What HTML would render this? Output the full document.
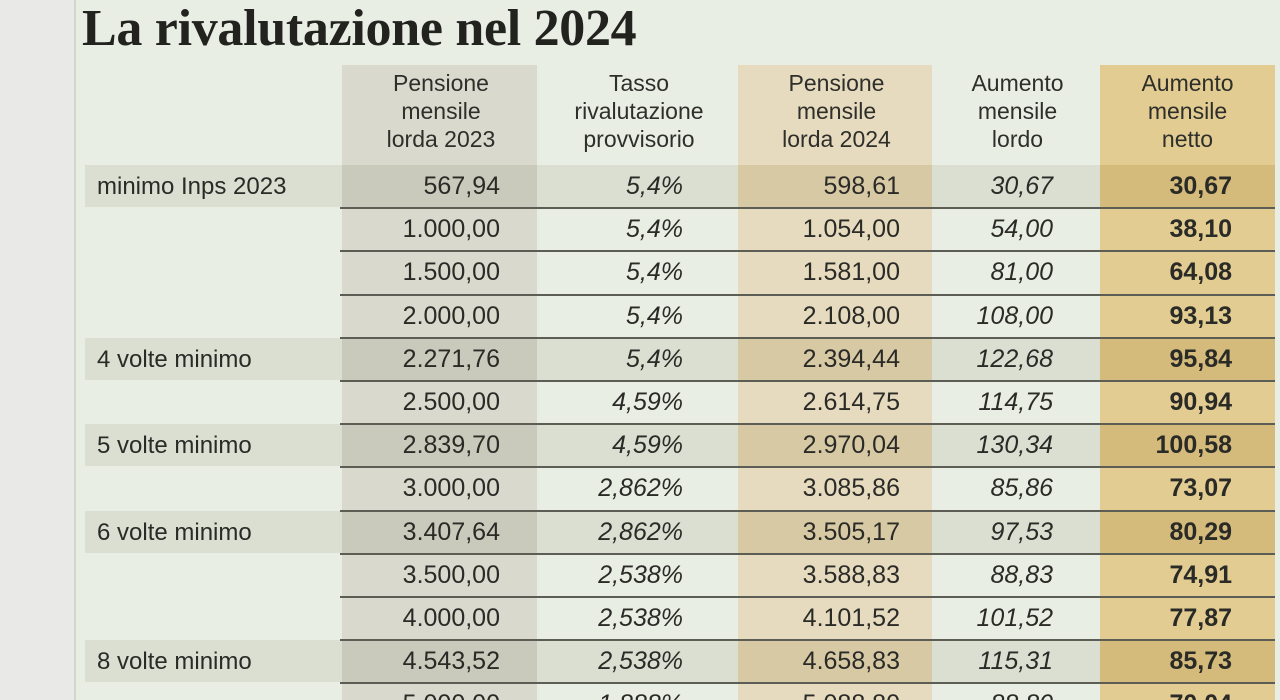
<!DOCTYPE html>
<html><head><meta charset="utf-8"><style>
html,body{margin:0;padding:0;width:1280px;height:700px;overflow:hidden}
body{background:#e9eae7;position:relative;font-family:"Liberation Sans Narrow","Liberation Sans",sans-serif;color:#2a2a26}
#panel{position:absolute;left:74px;top:0;width:1206px;height:700px;background:#e9eee5;border-left:2px solid #d3d5cf}
.abs{position:absolute}
#title{left:82px;top:-1px;font-family:"Liberation Serif",serif;font-weight:bold;font-size:52px;color:#22221f;letter-spacing:-0.3px;white-space:nowrap}
.hdr{font-size:23px;text-align:center;line-height:28px;color:#2e2e2a}
.cell{font-size:25px;line-height:43px;text-align:right;white-space:nowrap}
.lab{font-size:24px;line-height:43px;white-space:nowrap}
#tbl{position:absolute;left:0;top:0;width:1280px;height:700px;overflow:hidden}
</style></head><body>
<div id="panel"></div>
<div id="title" class="abs">La rivalutazione nel 2024</div>
<div id="tbl"></div>
<script>
const headers=["Pensione<br>mensile<br>lorda 2023","Tasso<br>rivalutazione<br>provvisorio","Pensione<br>mensile<br>lorda 2024","Aumento<br>mensile<br>lordo","Aumento<br>mensile<br>netto"];
const rowLabels=["minimo Inps 2023","","","","4 volte minimo","","5 volte minimo","","6 volte minimo","","","8 volte minimo",""];
const pension2023=["567,94","1.000,00","1.500,00","2.000,00","2.271,76","2.500,00","2.839,70","3.000,00","3.407,64","3.500,00","4.000,00","4.543,52","5.000,00"];
const rates=["5,4%","5,4%","5,4%","5,4%","5,4%","4,59%","4,59%","2,862%","2,862%","2,538%","2,538%","2,538%","1,888%"];
const pension2024=["598,61","1.054,00","1.581,00","2.108,00","2.394,44","2.614,75","2.970,04","3.085,86","3.505,17","3.588,83","4.101,52","4.658,83","5.088,80"];
const grossIncrease=["30,67","54,00","81,00","108,00","122,68","114,75","130,34","85,86","97,53","88,83","101,52","115,31","88,80"];
const netIncrease=["30,67","38,10","64,08","93,13","95,84","90,94","100,58","73,07","80,29","74,91","77,87","85,73","70,04"];

const T=document.getElementById('tbl');
const colX=[342,540,738,935,1100,1275];
const colBg=["#d9dacd",null,"#e6dbbf",null,"#e2cc92"];
const colBgDark=["#c9cabb",null,"#d8c9a5",null,"#d4bb7c"];
const rightEdge=[500,683,900,1053,1232];
const styles=[{fw:"normal",fs:"normal"},{fw:"normal",fs:"italic"},{fw:"normal",fs:"normal"},{fw:"normal",fs:"italic"},{fw:"bold",fs:"normal"}];
const cols=[pension2023,rates,pension2024,grossIncrease,netIncrease];
const names=["pension-2023","rate","pension-2024","gross-increase","net-increase"];
const top0=165,rh=43.2,hTop=65;
function div(css){const d=document.createElement('div');d.className='abs';d.style.cssText=css;T.appendChild(d);return d;}
for(let c=0;c<5;c++){if(colBg[c]){const d=div(`left:${colX[c]}px;top:${hTop}px;width:${colX[c+1]-colX[c]-(c===4?0:3)}px;height:${700-hTop}px;background:${colBg[c]}`);

}}
for(let c=0;c<5;c++){const d=div(`left:${colX[c]}px;top:${hTop+4}px;width:${colX[c+1]-colX[c]}px`);d.className='abs hdr';d.innerHTML=headers[c];

}
for(let r=0;r<pension2023.length;r++){
 const y=top0+r*rh;
 if(rowLabels[r]){
  const band=div(`left:85px;top:${y}px;width:1190px;height:${rh-1}px;background:rgba(150,155,130,0.18)`);
  
  
  for(let c=0;c<5;c++){if(colBgDark[c]){const b=div(`left:${colX[c]}px;top:${y}px;width:${colX[c+1]-colX[c]-(c===4?0:3)}px;height:${rh-1}px;background:${colBgDark[c]}`);
  
  }}
  const l=div(`left:97px;top:${y}px`);l.className='abs lab';l.textContent=rowLabels[r];
  
  
 }
 if(r>0){const ln=div(`left:340px;top:${y-1}px;width:935px;height:2px;background:#5c5d55`);
 
 }
 for(let c=0;c<5;c++){
  const d=div(`left:${rightEdge[c]-200}px;top:${y}px;width:200px;font-weight:${styles[c].fw};font-style:${styles[c].fs}`);
  d.className='abs cell';d.textContent=cols[c][r];
  
  
 }
}
</script>
</body></html>
